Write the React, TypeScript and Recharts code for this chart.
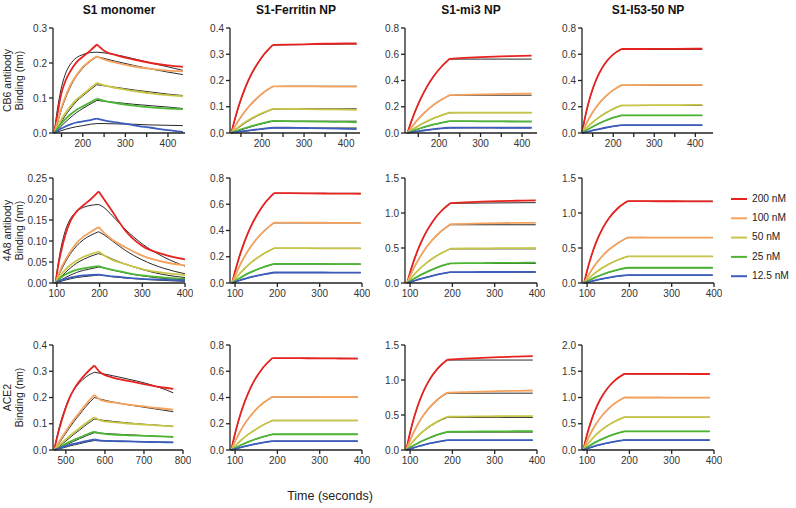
import { LineChart, Line, XAxis, YAxis } from "recharts";

const COLORS = ["#e8231f", "#f5a35e", "#c8c646", "#4cb634", "#3c5dbd"];
const CONCS = ["200 nM", "100 nM", "50 nM", "25 nM", "12.5 nM"];
const TITLES = ["S1 monomer", "S1-Ferritin NP", "S1-mi3 NP", "S1-I53-50 NP"];
const ROW_LABELS = ["CB6 antibody", "4A8 antibody", "ACE2"];

// ---- CB6, S1 monomer
const a1T = [133, 140, 148, 158, 170, 185, 200, 218, 233, 250, 280, 320, 360, 400, 435];
const a1Data = [
  [0, 0.05, 0.105, 0.145, 0.175, 0.202, 0.218, 0.236, 0.253, 0.235, 0.222, 0.21, 0.2, 0.193, 0.189],
  [0, 0.03, 0.065, 0.1, 0.135, 0.165, 0.188, 0.207, 0.219, 0.21, 0.2, 0.19, 0.183, 0.178, 0.176],
  [0, 0.015, 0.035, 0.055, 0.075, 0.095, 0.11, 0.128, 0.143, 0.136, 0.128, 0.12, 0.113, 0.108, 0.105],
  [0, 0.012, 0.025, 0.038, 0.052, 0.066, 0.076, 0.088, 0.098, 0.092, 0.085, 0.078, 0.073, 0.07, 0.068],
  [0, 0.006, 0.012, 0.018, 0.024, 0.03, 0.033, 0.037, 0.041, 0.036, 0.03, 0.022, 0.015, 0.008, 0.003],
];
const a1Fit = [
  [0, 0.065, 0.12, 0.165, 0.195, 0.215, 0.224, 0.23, 0.231, 0.229, 0.223, 0.212, 0.2, 0.189, 0.179],
  [0, 0.025, 0.06, 0.095, 0.13, 0.162, 0.185, 0.205, 0.218, 0.213, 0.204, 0.193, 0.183, 0.174, 0.167],
  [0, 0.01, 0.028, 0.048, 0.068, 0.09, 0.106, 0.124, 0.138, 0.135, 0.13, 0.123, 0.117, 0.111, 0.107],
  [0, 0.007, 0.018, 0.03, 0.043, 0.058, 0.07, 0.083, 0.093, 0.091, 0.087, 0.082, 0.078, 0.074, 0.07],
  [0, 0.003, 0.006, 0.01, 0.014, 0.018, 0.021, 0.025, 0.027, 0.027, 0.026, 0.025, 0.023, 0.022, 0.021],
];

// ---- CB6, S1-Ferritin
const a2T = [127, 135, 145, 160, 175, 190, 205, 226, 260, 300, 350, 400, 425];
const a2Data = [
  [0, 0.05, 0.105, 0.172, 0.225, 0.266, 0.3, 0.336, 0.337, 0.338, 0.34, 0.341, 0.341],
  [0, 0.024, 0.05, 0.084, 0.112, 0.136, 0.156, 0.178, 0.178, 0.178, 0.177, 0.177, 0.177],
  [0, 0.011, 0.024, 0.041, 0.056, 0.068, 0.079, 0.092, 0.092, 0.091, 0.09, 0.089, 0.088],
  [0, 0.005, 0.011, 0.019, 0.026, 0.033, 0.039, 0.046, 0.045, 0.044, 0.043, 0.042, 0.041],
  [0, 0.002, 0.005, 0.008, 0.011, 0.014, 0.017, 0.02, 0.02, 0.019, 0.018, 0.016, 0.015],
];
const a2Fit = [
  [0, 0.048, 0.102, 0.17, 0.223, 0.265, 0.298, 0.335, 0.336, 0.337, 0.338, 0.339, 0.339],
  [0, 0.022, 0.048, 0.082, 0.11, 0.134, 0.155, 0.177, 0.178, 0.178, 0.178, 0.178, 0.178],
  [0, 0.009, 0.021, 0.038, 0.053, 0.066, 0.077, 0.091, 0.092, 0.092, 0.092, 0.092, 0.092],
  [0, 0.004, 0.009, 0.017, 0.024, 0.031, 0.037, 0.045, 0.045, 0.045, 0.045, 0.045, 0.045],
  [0, 0.002, 0.004, 0.007, 0.01, 0.013, 0.016, 0.019, 0.019, 0.019, 0.019, 0.019, 0.019],
];

// ---- CB6, S1-mi3
const a3T = [124, 132, 142, 157, 172, 187, 205, 225, 260, 300, 350, 400, 423];
const a3Data = [
  [0, 0.077, 0.162, 0.27, 0.359, 0.432, 0.503, 0.565, 0.572, 0.578, 0.584, 0.588, 0.59],
  [0, 0.036, 0.077, 0.13, 0.176, 0.215, 0.253, 0.288, 0.291, 0.294, 0.297, 0.299, 0.3],
  [0, 0.018, 0.039, 0.067, 0.091, 0.113, 0.135, 0.155, 0.156, 0.156, 0.156, 0.156, 0.156],
  [0, 0.01, 0.022, 0.038, 0.052, 0.065, 0.078, 0.09, 0.09, 0.089, 0.088, 0.087, 0.087],
  [0, 0.004, 0.01, 0.017, 0.023, 0.029, 0.035, 0.04, 0.041, 0.041, 0.04, 0.04, 0.04],
];
const a3Fit = [
  [0, 0.075, 0.16, 0.268, 0.357, 0.43, 0.501, 0.563, 0.563, 0.563, 0.563, 0.563, 0.563],
  [0, 0.034, 0.075, 0.128, 0.174, 0.213, 0.251, 0.287, 0.288, 0.288, 0.288, 0.288, 0.288],
  [0, 0.017, 0.037, 0.065, 0.089, 0.111, 0.133, 0.154, 0.155, 0.155, 0.155, 0.155, 0.155],
  [0, 0.009, 0.021, 0.037, 0.051, 0.064, 0.077, 0.089, 0.089, 0.089, 0.089, 0.089, 0.089],
  [0, 0.004, 0.009, 0.016, 0.022, 0.028, 0.034, 0.039, 0.039, 0.039, 0.039, 0.039, 0.039],
];

// ---- CB6, S1-I53-50
const a4T = [124, 131, 140, 152, 165, 180, 198, 220, 260, 300, 350, 400, 417];
const a4Data = [
  [0, 0.113, 0.232, 0.354, 0.451, 0.53, 0.594, 0.64, 0.64, 0.641, 0.641, 0.642, 0.642],
  [0, 0.049, 0.105, 0.168, 0.224, 0.275, 0.323, 0.365, 0.365, 0.366, 0.366, 0.366, 0.366],
  [0, 0.025, 0.054, 0.088, 0.119, 0.15, 0.181, 0.21, 0.211, 0.212, 0.213, 0.214, 0.215],
  [0, 0.014, 0.031, 0.052, 0.072, 0.093, 0.115, 0.135, 0.134, 0.134, 0.134, 0.134, 0.134],
  [0, 0.005, 0.012, 0.021, 0.03, 0.04, 0.05, 0.06, 0.06, 0.06, 0.06, 0.06, 0.06],
];
const a4Fit = [
  [0, 0.11, 0.228, 0.35, 0.448, 0.528, 0.592, 0.637, 0.637, 0.637, 0.637, 0.637, 0.637],
  [0, 0.047, 0.103, 0.166, 0.222, 0.273, 0.321, 0.363, 0.364, 0.364, 0.364, 0.364, 0.364],
  [0, 0.024, 0.052, 0.086, 0.117, 0.148, 0.179, 0.209, 0.21, 0.21, 0.21, 0.21, 0.21],
  [0, 0.013, 0.03, 0.051, 0.071, 0.092, 0.114, 0.134, 0.134, 0.134, 0.134, 0.134, 0.134],
  [0, 0.005, 0.011, 0.02, 0.029, 0.039, 0.049, 0.059, 0.059, 0.059, 0.059, 0.059, 0.059],
];

// ---- 4A8, S1 monomer
const b1T = [97, 103, 110, 120, 132, 146, 162, 180, 198, 210, 230, 260, 300, 350, 400];
const b1Data = [
  [0, 0.04, 0.075, 0.115, 0.148, 0.17, 0.185, 0.2, 0.218, 0.2, 0.17, 0.125, 0.088, 0.068, 0.056],
  [0, 0.018, 0.035, 0.055, 0.075, 0.095, 0.11, 0.122, 0.133, 0.12, 0.103, 0.085, 0.065, 0.05, 0.042],
  [0, 0.01, 0.02, 0.032, 0.043, 0.053, 0.062, 0.069, 0.075, 0.066, 0.055, 0.045, 0.033, 0.024, 0.019],
  [0, 0.007, 0.013, 0.02, 0.026, 0.031, 0.035, 0.038, 0.04, 0.036, 0.031, 0.025, 0.018, 0.013, 0.01],
  [0, 0.004, 0.007, 0.01, 0.013, 0.016, 0.018, 0.019, 0.02, 0.018, 0.016, 0.013, 0.01, 0.008, 0.006],
];
const b1Fit = [
  [0, 0.045, 0.085, 0.125, 0.153, 0.17, 0.18, 0.185, 0.187, 0.18, 0.16, 0.128, 0.093, 0.062, 0.04],
  [0, 0.015, 0.03, 0.05, 0.07, 0.088, 0.103, 0.114, 0.122, 0.115, 0.1, 0.078, 0.055, 0.035, 0.022],
  [0, 0.006, 0.014, 0.025, 0.036, 0.047, 0.056, 0.064, 0.07, 0.066, 0.057, 0.045, 0.032, 0.02, 0.013],
  [0, 0.003, 0.007, 0.013, 0.019, 0.025, 0.03, 0.034, 0.038, 0.036, 0.031, 0.024, 0.017, 0.011, 0.008],
  [0, 0.002, 0.004, 0.007, 0.01, 0.013, 0.015, 0.017, 0.019, 0.018, 0.015, 0.012, 0.009, 0.006, 0.004],
];

// ---- 4A8, S1-Ferritin
const b2T = [93, 100, 110, 122, 136, 152, 170, 192, 230, 270, 310, 350, 397];
const b2Data = [
  [0, 0.089, 0.2, 0.313, 0.422, 0.52, 0.607, 0.685, 0.684, 0.683, 0.682, 0.681, 0.68],
  [0, 0.055, 0.126, 0.2, 0.272, 0.34, 0.401, 0.46, 0.46, 0.459, 0.459, 0.458, 0.458],
  [0, 0.03, 0.068, 0.109, 0.151, 0.191, 0.228, 0.265, 0.265, 0.265, 0.264, 0.264, 0.264],
  [0, 0.015, 0.035, 0.058, 0.081, 0.103, 0.124, 0.145, 0.145, 0.145, 0.145, 0.144, 0.144],
  [0, 0.008, 0.019, 0.031, 0.044, 0.056, 0.068, 0.08, 0.08, 0.08, 0.08, 0.079, 0.079],
];
const b2Fit = [
  [0, 0.087, 0.198, 0.31, 0.42, 0.518, 0.605, 0.683, 0.683, 0.683, 0.683, 0.683, 0.683],
  [0, 0.053, 0.124, 0.198, 0.27, 0.338, 0.4, 0.458, 0.458, 0.458, 0.458, 0.458, 0.458],
  [0, 0.029, 0.066, 0.107, 0.149, 0.189, 0.226, 0.264, 0.264, 0.264, 0.264, 0.264, 0.264],
  [0, 0.014, 0.034, 0.057, 0.08, 0.102, 0.123, 0.144, 0.144, 0.144, 0.144, 0.144, 0.144],
  [0, 0.007, 0.018, 0.03, 0.043, 0.055, 0.067, 0.079, 0.079, 0.079, 0.079, 0.079, 0.079],
];

// ---- 4A8, S1-mi3
const b3T = [93, 100, 110, 122, 136, 152, 172, 195, 230, 270, 310, 350, 397];
const b3Data = [
  [0, 0.15, 0.337, 0.526, 0.705, 0.866, 1.018, 1.14, 1.152, 1.162, 1.17, 1.175, 1.18],
  [0, 0.1, 0.227, 0.359, 0.49, 0.613, 0.734, 0.84, 0.846, 0.851, 0.855, 0.858, 0.86],
  [0, 0.054, 0.124, 0.198, 0.274, 0.347, 0.422, 0.49, 0.493, 0.495, 0.497, 0.499, 0.5],
  [0, 0.027, 0.064, 0.105, 0.148, 0.192, 0.24, 0.28, 0.283, 0.285, 0.287, 0.288, 0.29],
  [0, 0.013, 0.032, 0.054, 0.078, 0.103, 0.131, 0.155, 0.156, 0.157, 0.157, 0.158, 0.158],
];
const b3Fit = [
  [0, 0.148, 0.335, 0.524, 0.703, 0.864, 1.016, 1.138, 1.14, 1.142, 1.144, 1.146, 1.148],
  [0, 0.098, 0.224, 0.355, 0.485, 0.607, 0.727, 0.832, 0.832, 0.832, 0.832, 0.832, 0.832],
  [0, 0.053, 0.122, 0.196, 0.272, 0.344, 0.419, 0.487, 0.488, 0.488, 0.488, 0.488, 0.488],
  [0, 0.026, 0.062, 0.103, 0.146, 0.19, 0.238, 0.278, 0.279, 0.279, 0.279, 0.279, 0.279],
  [0, 0.012, 0.031, 0.053, 0.077, 0.102, 0.13, 0.154, 0.154, 0.154, 0.154, 0.154, 0.154],
];

// ---- 4A8, S1-I53-50
const b4T = [93, 100, 110, 122, 136, 152, 172, 196, 230, 270, 310, 350, 397];
const b4Data = [
  [0, 0.176, 0.386, 0.59, 0.773, 0.929, 1.064, 1.17, 1.169, 1.168, 1.168, 1.167, 1.167],
  [0, 0.079, 0.18, 0.284, 0.385, 0.478, 0.569, 0.65, 0.65, 0.649, 0.649, 0.648, 0.648],
  [0, 0.043, 0.099, 0.158, 0.216, 0.272, 0.328, 0.38, 0.38, 0.38, 0.38, 0.379, 0.379],
  [0, 0.022, 0.053, 0.087, 0.121, 0.154, 0.189, 0.218, 0.218, 0.218, 0.218, 0.218, 0.218],
  [0, 0.01, 0.025, 0.042, 0.06, 0.078, 0.097, 0.113, 0.113, 0.113, 0.113, 0.113, 0.113],
];
const b4Fit = [
  [0, 0.174, 0.383, 0.587, 0.77, 0.926, 1.062, 1.168, 1.168, 1.168, 1.168, 1.168, 1.168],
  [0, 0.078, 0.178, 0.282, 0.383, 0.476, 0.567, 0.649, 0.649, 0.649, 0.649, 0.649, 0.649],
  [0, 0.042, 0.098, 0.157, 0.215, 0.271, 0.327, 0.379, 0.379, 0.379, 0.379, 0.379, 0.379],
  [0, 0.021, 0.052, 0.086, 0.12, 0.153, 0.188, 0.217, 0.217, 0.217, 0.217, 0.217, 0.217],
  [0, 0.01, 0.024, 0.041, 0.059, 0.077, 0.096, 0.112, 0.112, 0.112, 0.112, 0.112, 0.112],
];

// ---- ACE2, S1 monomer
const c1T = [470, 477, 485, 495, 507, 520, 535, 552, 573, 590, 620, 660, 700, 740, 775];
const c1Data = [
  [0, 0.045, 0.09, 0.14, 0.19, 0.23, 0.263, 0.292, 0.322, 0.293, 0.276, 0.263, 0.251, 0.24, 0.233],
  [0, 0.017, 0.037, 0.06, 0.088, 0.115, 0.143, 0.175, 0.21, 0.19, 0.181, 0.173, 0.166, 0.159, 0.154],
  [0, 0.01, 0.021, 0.034, 0.05, 0.066, 0.083, 0.103, 0.125, 0.112, 0.106, 0.101, 0.097, 0.093, 0.09],
  [0, 0.005, 0.012, 0.02, 0.029, 0.038, 0.047, 0.058, 0.07, 0.063, 0.059, 0.056, 0.054, 0.052, 0.05],
  [0, 0.004, 0.008, 0.013, 0.018, 0.023, 0.028, 0.034, 0.04, 0.036, 0.034, 0.033, 0.031, 0.03, 0.029],
];
const c1Fit = [
  [0, 0.05, 0.098, 0.145, 0.193, 0.228, 0.256, 0.279, 0.296, 0.292, 0.283, 0.27, 0.256, 0.238, 0.218],
  [0, 0.013, 0.031, 0.053, 0.08, 0.107, 0.135, 0.167, 0.2, 0.193, 0.183, 0.172, 0.163, 0.154, 0.146],
  [0, 0.006, 0.016, 0.028, 0.043, 0.059, 0.076, 0.096, 0.118, 0.114, 0.109, 0.103, 0.098, 0.094, 0.09],
  [0, 0.003, 0.008, 0.015, 0.024, 0.033, 0.043, 0.054, 0.066, 0.064, 0.061, 0.058, 0.055, 0.052, 0.05],
  [0, 0.002, 0.005, 0.009, 0.014, 0.019, 0.024, 0.03, 0.036, 0.035, 0.034, 0.033, 0.031, 0.03, 0.029],
];

// ---- ACE2, S1-Ferritin
const c2T = [91, 98, 107, 118, 131, 146, 165, 188, 230, 270, 310, 350, 390];
const c2Data = [
  [0, 0.1, 0.212, 0.326, 0.434, 0.532, 0.623, 0.7, 0.7, 0.699, 0.698, 0.697, 0.696],
  [0, 0.053, 0.112, 0.176, 0.238, 0.297, 0.354, 0.405, 0.405, 0.404, 0.404, 0.404, 0.404],
  [0, 0.024, 0.053, 0.086, 0.119, 0.151, 0.189, 0.225, 0.225, 0.225, 0.225, 0.225, 0.225],
  [0, 0.012, 0.027, 0.044, 0.062, 0.08, 0.1, 0.12, 0.12, 0.12, 0.12, 0.12, 0.12],
  [0, 0.006, 0.014, 0.024, 0.034, 0.045, 0.057, 0.068, 0.068, 0.068, 0.068, 0.068, 0.068],
];
const c2Fit = [
  [0, 0.098, 0.21, 0.323, 0.431, 0.53, 0.621, 0.698, 0.698, 0.698, 0.698, 0.698, 0.698],
  [0, 0.052, 0.11, 0.174, 0.236, 0.295, 0.352, 0.404, 0.404, 0.404, 0.404, 0.404, 0.404],
  [0, 0.023, 0.052, 0.085, 0.118, 0.15, 0.188, 0.224, 0.224, 0.224, 0.224, 0.224, 0.224],
  [0, 0.011, 0.026, 0.043, 0.061, 0.079, 0.099, 0.119, 0.119, 0.119, 0.119, 0.119, 0.119],
  [0, 0.006, 0.013, 0.023, 0.033, 0.044, 0.056, 0.067, 0.067, 0.067, 0.067, 0.067, 0.067],
];

// ---- ACE2, S1-mi3
const c3T = [91, 98, 107, 118, 131, 146, 165, 188, 230, 270, 310, 350, 390];
const c3Data = [
  [0, 0.197, 0.413, 0.628, 0.83, 1.005, 1.163, 1.29, 1.305, 1.317, 1.327, 1.334, 1.34],
  [0, 0.11, 0.235, 0.365, 0.492, 0.608, 0.722, 0.82, 0.828, 0.835, 0.841, 0.846, 0.85],
  [0, 0.058, 0.124, 0.196, 0.268, 0.338, 0.409, 0.475, 0.478, 0.48, 0.482, 0.484, 0.485],
  [0, 0.027, 0.06, 0.097, 0.136, 0.175, 0.219, 0.26, 0.262, 0.264, 0.266, 0.268, 0.27],
  [0, 0.013, 0.03, 0.05, 0.071, 0.093, 0.117, 0.14, 0.14, 0.141, 0.141, 0.142, 0.142],
];
const c3Fit = [
  [0, 0.195, 0.41, 0.625, 0.826, 1.0, 1.158, 1.285, 1.285, 1.285, 1.285, 1.285, 1.285],
  [0, 0.108, 0.232, 0.361, 0.487, 0.602, 0.715, 0.812, 0.812, 0.812, 0.812, 0.812, 0.812],
  [0, 0.057, 0.122, 0.193, 0.263, 0.332, 0.401, 0.466, 0.466, 0.466, 0.466, 0.466, 0.466],
  [0, 0.026, 0.059, 0.095, 0.133, 0.172, 0.215, 0.256, 0.256, 0.256, 0.256, 0.256, 0.256],
  [0, 0.012, 0.029, 0.049, 0.07, 0.092, 0.116, 0.139, 0.139, 0.139, 0.139, 0.139, 0.139],
];

// ---- ACE2, S1-I53-50
const c4T = [91, 98, 107, 118, 131, 146, 165, 188, 230, 270, 310, 350, 390];
const c4Data = [
  [0, 0.236, 0.488, 0.737, 0.962, 1.154, 1.322, 1.45, 1.45, 1.449, 1.449, 1.448, 1.448],
  [0, 0.139, 0.295, 0.456, 0.61, 0.751, 0.886, 1.0, 1.0, 1.0, 0.999, 0.999, 0.999],
  [0, 0.078, 0.169, 0.265, 0.361, 0.452, 0.542, 0.625, 0.625, 0.625, 0.625, 0.625, 0.625],
  [0, 0.04, 0.087, 0.14, 0.193, 0.246, 0.304, 0.355, 0.355, 0.355, 0.355, 0.355, 0.355],
  [0, 0.02, 0.045, 0.073, 0.101, 0.13, 0.161, 0.19, 0.19, 0.19, 0.19, 0.19, 0.19],
];
const c4Fit = [
  [0, 0.233, 0.485, 0.733, 0.958, 1.15, 1.319, 1.448, 1.448, 1.448, 1.448, 1.448, 1.448],
  [0, 0.137, 0.293, 0.453, 0.607, 0.748, 0.883, 0.998, 0.998, 0.998, 0.998, 0.998, 0.998],
  [0, 0.077, 0.167, 0.263, 0.359, 0.45, 0.54, 0.623, 0.623, 0.623, 0.623, 0.623, 0.623],
  [0, 0.039, 0.086, 0.139, 0.192, 0.245, 0.303, 0.354, 0.354, 0.354, 0.354, 0.354, 0.354],
  [0, 0.019, 0.044, 0.072, 0.1, 0.129, 0.16, 0.189, 0.189, 0.189, 0.189, 0.189, 0.189],
];

const Y_W = 40;
const TOP = 5;
const PLOT_H = 105;
const X_H = 24;
const FONT = "'Liberation Sans', Arial, Helvetica, sans-serif";

type PanelProps = {
  t: number[];
  peak: number;
  data: number[][];
  fit: number[][];
  xDomain: [number, number];
  xTicks: number[];
  labelEvery?: number;
  yDomain: [number, number];
  yTicks: number[];
  digits: number;
  left: number;
  top: number;
  plotW: number;
};

function Panel({ t, peak, data, fit, xDomain, xTicks, labelEvery = 100, yDomain, yTicks, digits, left, top, plotW }: PanelProps) {
  // split each curve at the end of association so the corner stays sharp
  const rows = t.map((x, j) => {
    const r: Record<string, number | null> = { t: x };
    for (let i = 0; i < 5; i++) {
      r[`d${i}a`] = j <= peak ? data[i][j] : null;
      r[`d${i}b`] = j >= peak ? data[i][j] : null;
      r[`f${i}a`] = j <= peak ? fit[i][j] : null;
      r[`f${i}b`] = j >= peak ? fit[i][j] : null;
    }
    return r;
  });
  const tick = { fontSize: 10, fill: "#333", fontFamily: FONT };
  const axisLine = { stroke: "#222", strokeWidth: 1.3 };
  return (
    <div style={{ position: "absolute", left: left - Y_W, top: top - TOP }}>
      <LineChart
        width={Y_W + plotW + 8}
        height={TOP + PLOT_H + X_H}
        data={rows}
        margin={{ top: TOP, right: 8, bottom: 0, left: 0 }}
      >
        <XAxis
          type="number"
          dataKey="t"
          domain={xDomain}
          ticks={xTicks}
          interval={0}
          height={X_H}
          tick={tick}
          tickSize={4}
          tickMargin={3}
          axisLine={axisLine}
          tickLine={axisLine}
          tickFormatter={(v: number) => (v % labelEvery === 0 ? String(v) : "")}
        />
        <YAxis
          type="number"
          domain={yDomain}
          ticks={yTicks}
          interval={0}
          width={Y_W}
          tick={tick}
          tickSize={4}
          tickMargin={2}
          axisLine={axisLine}
          tickLine={axisLine}
          tickFormatter={(v: number) => v.toFixed(digits)}
        />
        {[0, 1, 2, 3, 4].flatMap((i) =>
          ["a", "b"].map((s) => (
            <Line
              key={`f${i}${s}`}
              dataKey={`f${i}${s}`}
              type="monotone"
              stroke="#111"
              strokeWidth={0.9}
              dot={false}
              activeDot={false}
              isAnimationActive={false}
            />
          ))
        )}
        {[0, 1, 2, 3, 4].flatMap((i) =>
          ["a", "b"].map((s) => (
            <Line
              key={`d${i}${s}`}
              dataKey={`d${i}${s}`}
              type="monotone"
              stroke={COLORS[i]}
              strokeWidth={1.8}
              dot={false}
              activeDot={false}
              isAnimationActive={false}
            />
          ))
        )}
      </LineChart>
    </div>
  );
}

const COL_LEFT = [53, 230, 405, 582];
const ROW_TOP = [28, 178, 345];
const PLOT_W = 132;

const t50 = [150, 200, 250, 300, 350, 400];
const t100 = [100, 200, 300, 400];

export default function App() {
  return (
    <div style={{ position: "absolute", left: 0, top: 0, width: 796, height: 508, background: "#fff", fontFamily: FONT }}>
      {/* row 1: CB6 */}
      <Panel t={a1T} peak={8} data={a1Data} fit={a1Fit} xDomain={[130, 440]} xTicks={t50} yDomain={[0, 0.3]} yTicks={[0, 0.1, 0.2, 0.3]} digits={1} left={COL_LEFT[0]} top={ROW_TOP[0]} plotW={132} />
      <Panel t={a2T} peak={7} data={a2Data} fit={a2Fit} xDomain={[124, 433]} xTicks={t50} yDomain={[0, 0.4]} yTicks={[0, 0.1, 0.2, 0.3, 0.4]} digits={1} left={COL_LEFT[1]} top={ROW_TOP[0]} plotW={130} />
      <Panel t={a3T} peak={7} data={a3Data} fit={a3Fit} xDomain={[118, 436]} xTicks={t50} yDomain={[0, 0.8]} yTicks={[0, 0.2, 0.4, 0.6, 0.8]} digits={1} left={COL_LEFT[2]} top={ROW_TOP[0]} plotW={132} />
      <Panel t={a4T} peak={7} data={a4Data} fit={a4Fit} xDomain={[124, 443]} xTicks={t50} yDomain={[0, 0.8]} yTicks={[0, 0.2, 0.4, 0.6, 0.8]} digits={1} left={COL_LEFT[3]} top={ROW_TOP[0]} plotW={131} />
      {/* row 2: 4A8 */}
      <Panel t={b1T} peak={8} data={b1Data} fit={b1Fit} xDomain={[91, 400]} xTicks={t100} yDomain={[0, 0.25]} yTicks={[0, 0.05, 0.1, 0.15, 0.2, 0.25]} digits={2} left={COL_LEFT[0]} top={ROW_TOP[1]} plotW={PLOT_W} />
      <Panel t={b2T} peak={7} data={b2Data} fit={b2Fit} xDomain={[88, 400]} xTicks={t100} yDomain={[0, 0.8]} yTicks={[0, 0.2, 0.4, 0.6, 0.8]} digits={1} left={COL_LEFT[1]} top={ROW_TOP[1]} plotW={PLOT_W} />
      <Panel t={b3T} peak={7} data={b3Data} fit={b3Fit} xDomain={[88, 400]} xTicks={t100} yDomain={[0, 1.5]} yTicks={[0, 0.5, 1, 1.5]} digits={1} left={COL_LEFT[2]} top={ROW_TOP[1]} plotW={PLOT_W} />
      <Panel t={b4T} peak={7} data={b4Data} fit={b4Fit} xDomain={[88, 400]} xTicks={t100} yDomain={[0, 1.5]} yTicks={[0, 0.5, 1, 1.5]} digits={1} left={COL_LEFT[3]} top={ROW_TOP[1]} plotW={PLOT_W} />
      {/* row 3: ACE2 */}
      <Panel t={c1T} peak={8} data={c1Data} fit={c1Fit} xDomain={[467, 800]} xTicks={[500, 600, 700, 800]} yDomain={[0, 0.4]} yTicks={[0, 0.1, 0.2, 0.3, 0.4]} digits={1} left={COL_LEFT[0]} top={ROW_TOP[2]} plotW={130} />
      <Panel t={c2T} peak={7} data={c2Data} fit={c2Fit} xDomain={[88, 400]} xTicks={t100} yDomain={[0, 0.8]} yTicks={[0, 0.2, 0.4, 0.6, 0.8]} digits={1} left={COL_LEFT[1]} top={ROW_TOP[2]} plotW={PLOT_W} />
      <Panel t={c3T} peak={7} data={c3Data} fit={c3Fit} xDomain={[88, 400]} xTicks={t100} yDomain={[0, 1.5]} yTicks={[0, 0.5, 1, 1.5]} digits={1} left={COL_LEFT[2]} top={ROW_TOP[2]} plotW={PLOT_W} />
      <Panel t={c4T} peak={7} data={c4Data} fit={c4Fit} xDomain={[88, 400]} xTicks={t100} yDomain={[0, 2]} yTicks={[0, 0.5, 1, 1.5, 2]} digits={1} left={COL_LEFT[3]} top={ROW_TOP[2]} plotW={PLOT_W} />

      <svg width={796} height={508} style={{ position: "absolute", left: 0, top: 0, pointerEvents: "none" }}>
        {TITLES.map((s, i) => (
          <text key={s} x={COL_LEFT[i] + 66} y={11} textAnchor="middle" dominantBaseline="middle" fontSize={12} fontWeight="bold" fill="#111" fontFamily={FONT}>
            {s}
          </text>
        ))}
        {ROW_LABELS.map((s, i) => {
          const cy = ROW_TOP[i] + PLOT_H / 2;
          return (
            <g key={s} fontSize={10.5} fill="#222" fontFamily={FONT} textAnchor="middle">
              <text transform={`translate(11, ${cy}) rotate(-90)`}>{s}</text>
              <text transform={`translate(23, ${cy}) rotate(-90)`}>Binding (nm)</text>
            </g>
          );
        })}
        <text x={330} y={497} textAnchor="middle" dominantBaseline="middle" fontSize={12.5} fill="#222" fontFamily={FONT}>
          Time (seconds)
        </text>
        {CONCS.map((c, i) => {
          const y = 199 + i * 19.3;
          return (
            <g key={c}>
              <line x1={731} x2={747} y1={y} y2={y} stroke={COLORS[i]} strokeWidth={2} />
              <text x={752} y={y} dominantBaseline="middle" fontSize={10.2} fill="#222" fontFamily={FONT}>
                {c}
              </text>
            </g>
          );
        })}
      </svg>
    </div>
  );
}
